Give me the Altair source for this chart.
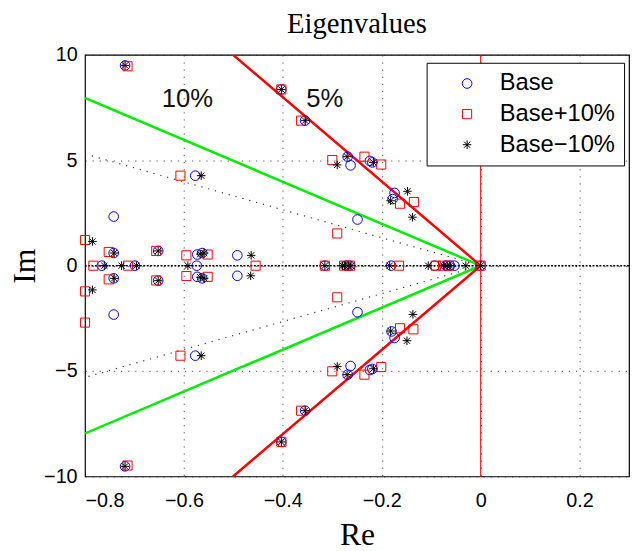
import altair as alt
import pandas as pd

# ---- data ----
series_names = ["Base", "Base+10%", "Base\u221210%"]

base_re = [-0.719, -0.719, -0.403, -0.403, -0.355, -0.355, -0.577, -0.577, -0.742, -0.742,
           -0.269, -0.269, -0.263, -0.263, -0.224, -0.224, -0.219, -0.219, -0.174, -0.174,
           -0.178, -0.180, -0.249, -0.249, -0.766, -0.742, -0.742, -0.699, -0.652, -0.652,
           -0.573, -0.573, -0.563, -0.563, -0.574, -0.492, -0.492, -0.315, -0.272, -0.265,
           -0.181, -0.093, -0.070, -0.062, -0.053, 0.0]
base_im = [9.50, -9.52, 8.36, -8.36, 6.88, -6.88, 4.27, -4.27, 2.33, -2.32,
           5.17, -5.17, 4.76, -4.76, 4.97, -4.95, 4.90, -4.90, 3.45, -3.43,
           3.16, -3.12, 2.19, -2.21, 0.0, 0.60, -0.60, 0.0, 0.70, -0.71,
           0.53, -0.53, 0.60, -0.60, 0.0, 0.49, -0.48, 0.0, 0.0, 0.0,
           0.0, 0.0, 0.0, 0.0, 0.0, 0.0]

plus_re = [-0.714, -0.714, -0.403, -0.403, -0.363, -0.363, -0.607, -0.607, -0.300, -0.300,
           -0.235, -0.235, -0.201, -0.201, -0.163, -0.163, -0.135, -0.136, -0.290, -0.290,
           -0.800, -0.800, -0.800, -0.783, -0.752, -0.752, -0.713, -0.656, -0.656, -0.595,
           -0.595, -0.552, -0.552, -0.455, -0.315, -0.276, -0.264, -0.165, -0.091, -0.076,
           -0.064, 0.0]
plus_im = [9.46, -9.48, 8.36, -8.36, 6.88, -6.88, 4.27, -4.27, 5.01, -5.01,
           5.17, -5.17, 4.80, -4.81, 2.94, -2.97, 3.02, -3.02, 1.53, -1.50,
           1.22, -1.22, -2.70, 0.0, 0.65, -0.65, 0.0, 0.70, -0.70, 0.49,
           -0.49, 0.53, -0.53, 0.0, 0.0, 0.0, 0.0, 0.0, 0.0, 0.0,
           0.0, 0.0]

minus_re = [-0.719, -0.719, -0.403, -0.403, -0.355, -0.355, -0.565, -0.565, -0.270, -0.270,
            -0.290, -0.290, -0.217, -0.217, -0.182, -0.182, -0.148, -0.149, -0.138, -0.137,
            -0.785, -0.785, -0.761, -0.741, -0.741, -0.726, -0.696, -0.652, -0.652, -0.567,
            -0.567, -0.559, -0.559, -0.592, -0.464, -0.465, -0.315, -0.279, -0.275, -0.268,
            -0.262, -0.184, -0.106, -0.075, -0.068, -0.062, -0.030, 0.0]
minus_im = [9.50, -9.52, 8.36, -8.36, 6.88, -6.88, 4.27, -4.27, 5.17, -5.17,
            4.78, -4.78, 4.90, -4.89, 3.08, -3.10, 3.53, -3.56, 2.30, -2.31,
            1.15, -1.15, 0.0, 0.60, -0.60, 0.0, 0.0, 0.70, -0.71, 0.55,
            -0.55, 0.60, -0.60, 0.0, 0.49, -0.48, 0.0, 0.0, 0.0, 0.0,
            0.0, 0.0, 0.0, 0.0, 0.0, 0.0, 0.0, 0.0]

# damping-ratio reference lines (end points at the plot edge, through the origin)
red_re = [-0.5007, 0.0, -0.5007]
red_im = [10.0, 0.0, -10.0]
green_re = [-0.8, 0.0, -0.8]
green_im = [7.96, 0.0, -7.96]
dot_re = [-0.8, 0.0, -0.8]
dot_im = [5.3, 0.0, -5.3]

label_text = ["10%", "5%"]
label_re = [-0.593, -0.315]
label_im = [7.9, 7.9]

x_ticks = [-0.8, -0.6, -0.4, -0.2, 0.0, 0.2]
y_ticks = [-10, -5, 0, 5, 10]

# ---- build tables ----
rows = []
for name, rr, ii in [(series_names[0], base_re, base_im),
                     (series_names[1], plus_re, plus_im),
                     (series_names[2], minus_re, minus_im)]:
    for r, i in zip(rr, ii):
        rows.append({"Re": r, "Im": i, "series": name})
df = pd.DataFrame(rows)


def line_df(rr, ii):
    return pd.DataFrame({"Re": rr, "Im": ii, "idx": list(range(len(rr)))})


star_path = "M-1,0L1,0M0,-1L0,1M-0.72,-0.72L0.72,0.72M-0.72,0.72L0.72,-0.72"

xs = alt.Scale(domain=[-0.8, 0.3], nice=False, zero=False)
ys = alt.Scale(domain=[-10, 10], nice=False, zero=False)

common_axis = dict(
    grid=True, ticks=False, domain=False,
    labelFont="Liberation Sans", labelFontSize=20, labelColor="black",
    titleFont="Liberation Serif", titleFontSize=32, titleFontWeight="normal", titleColor="black",
    gridColor="#222222", gridDash=[1.2, 6], gridWidth=1, gridOpacity=0.8,
)
xaxis = alt.Axis(values=x_ticks, labelPadding=14,
                 labelExpr="datum.value == 0 ? '0' : format(datum.value, '.1f')",
                 titlePadding=10, **common_axis)
yaxis = alt.Axis(values=y_ticks, labelPadding=8, format="d", titlePadding=2, **common_axis)


def X():
    return alt.X("Re:Q", scale=xs, axis=xaxis, title="Re")


def Y():
    return alt.Y("Im:Q", scale=ys, axis=yaxis, title="Im")


legend = alt.Legend(title=None, orient="none", legendX=346, legendY=8,
                    strokeColor="black", fillColor="white", padding=9,
                    labelFont="Liberation Sans", labelFontSize=24, labelColor="black",
                    rowPadding=7, symbolStrokeWidth=1.1, symbolSize=70,
                    symbolOffset=20, labelOffset=21, cornerRadius=0, labelLimit=300)

zero_h = alt.Chart(pd.DataFrame({"Im": [0.0]})).mark_rule(
    color="black", strokeWidth=1.5, strokeDash=[2, 1.5]).encode(y=Y())
zero_v = alt.Chart(pd.DataFrame({"Re": [0.0]})).mark_rule(
    color="#ff0000", strokeWidth=1).encode(x=X())

dot_line = alt.Chart(line_df(dot_re, dot_im)).mark_line(
    color="#333333", strokeWidth=1.2, strokeDash=[1.2, 6], clip=True).encode(
    x=X(), y=Y(), order="idx:O")
green_line = alt.Chart(line_df(green_re, green_im)).mark_line(
    color="#00ee00", strokeWidth=2.5, clip=True).encode(x=X(), y=Y(), order="idx:O")
red_line = alt.Chart(line_df(red_re, red_im)).mark_line(
    color="#ff0000", strokeWidth=2.5, clip=True).encode(x=X(), y=Y(), order="idx:O")

points = alt.Chart(df).mark_point(filled=False, opacity=1).encode(
    x=X(), y=Y(),
    color=alt.Color("series:N", sort=series_names,
                    scale=alt.Scale(domain=series_names, range=["#0000ff", "#ff0000", "#000000"]),
                    legend=legend),
    shape=alt.Shape("series:N", sort=series_names,
                    scale=alt.Scale(domain=series_names, range=["circle", "square", star_path]),
                    legend=legend),
    size=alt.Size("series:N", scale=alt.Scale(domain=series_names, range=[95, 75, 135]),
                  legend=None),
    strokeWidth=alt.StrokeWidth("series:N",
                                scale=alt.Scale(domain=series_names, range=[1.0, 1.0, 1.3]),
                                legend=None),
)

labels = alt.Chart(pd.DataFrame({"Re": label_re, "Im": label_im, "t": label_text})).mark_text(
    font="Liberation Sans", fontSize=26, color="#111111").encode(x=X(), y=Y(), text="t:N")

chart = alt.layer(zero_h, zero_v, dot_line, green_line, red_line, points, labels).properties(
    width=551, height=427,
    background="white",
    title=alt.Title("Eigenvalues", font="Liberation Serif", fontSize=29, fontWeight="normal",
                    color="black", anchor="middle", offset=6),
    padding={"left": 78, "top": 44, "right": 1, "bottom": 72},
    autosize="none",
).configure_view(stroke="black", strokeWidth=1.2)

chart.save("out.html", embed_options={"renderer": "svg", "actions": False})
